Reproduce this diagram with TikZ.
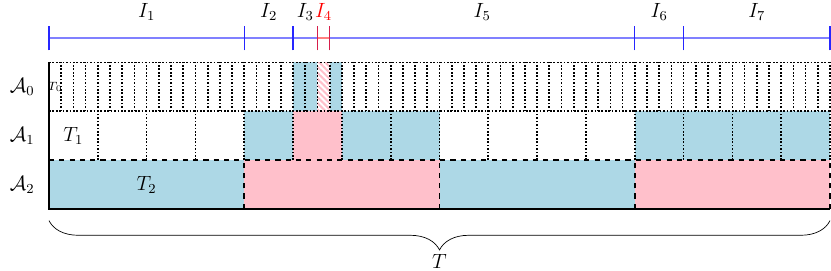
\documentclass[tikz,border=0pt]{standalone}
\usepackage{amsmath}
\usepackage{amssymb}
\usetikzlibrary{calc, decorations.pathreplacing, patterns.meta}
\definecolor{cellblue}{RGB}{173,216,230}
\definecolor{cellpink}{RGB}{255,192,203}
\definecolor{tickred}{RGB}{215,30,75}

\begin{document}
\begin{tikzpicture}[
    every node/.style={font=\large},
    finegrid/.style={densely dotted, line width=1pt},
    coarsegrid/.style={dashed, line width=1pt},
    ivline/.style={blue!50, line width=1pt},
    ivtick/.style={blue!85, thick},
    redtick/.style={tickred, thick}
]
    \useasboundingbox (-1.004,-1.27) rectangle (16.02,4.28);

    % level 2 cells
    \foreach \i/\c in {0/cellblue, 1/cellpink, 2/cellblue, 3/cellpink}
        \fill[\c] (4*\i,0) rectangle (4*\i+4,1);
    % level 1 cells
    \foreach \i in {4,6,7,12,13,14,15}
        \fill[cellblue] (\i,1) rectangle (\i+1,2);
    \fill[cellpink] (5,1) rectangle (6,2);
    % level 0 cells
    \foreach \i in {20,21,23}
        \fill[cellblue] (\i/4,2) rectangle (\i/4+0.25,3);
    \fill[pattern={Lines[angle=-45, distance=2.5pt, line width=1.2pt]},
        pattern color=cellpink] (5.5,2) rectangle (5.75,3);

    % grid lines
    \foreach \i in {1,...,64}
        \draw[finegrid] (\i/4,2) -- (\i/4,3);
    \draw[finegrid] (0,3) -- (16,3);
    \draw[finegrid] (0,2) -- (16,2);
    \foreach \i in {1,...,16}
        \draw[finegrid] (\i,1) -- (\i,2);
    \draw[coarsegrid] (0,1) -- (16,1);
    \foreach \i in {1,...,4}
        \draw[coarsegrid] (4*\i,0) -- (4*\i,1);
    \draw[line width=1pt] (0,3) -- (0,0) -- (16,0);

    % intervals
    \foreach \n/\x in {a/0, b/4, c/5, d/5.5, e/5.75, f/12, g/13, h/16}
        \coordinate (\n) at (\x,3.5);
    \draw[ivline] (a) -- (d);
    \draw[ivline] (e) -- (h);
    \draw[red!50, line width=1pt] (d) -- (e);
    \foreach \n in {a, b, c, f, g, h}
        \draw[ivtick] ($(\n)+(0,-0.25)$) -- ($(\n)+(0,0.25)$);
    \foreach \n in {d, e}
        \draw[redtick] ($(\n)+(0,-0.25)$) -- ($(\n)+(0,0.25)$);

    \node (I1) at (2,4.04) {$I_1$};
    \node (I2) at (4.5,4.04) {$I_2$};
    \node (I3) at (5.25,4.04) {$I_3$};
    \node[text=red] (I4) at (5.625,4.04) {$I_4$};
    \node (I5) at (8.875,4.04) {$I_5$};
    \node (I6) at (12.5,4.04) {$I_6$};
    \node (I7) at (14.5,4.04) {$I_7$};

    % level labels
    \node (L0) at (-0.55,2.5) {$\mathcal{A}_0$};
    \node (L1) at (-0.55,1.5) {$\mathcal{A}_1$};
    \node (L2) at (-0.55,0.5) {$\mathcal{A}_2$};

    \node[inner sep=0pt, font=\scriptsize] (T0) at (0.125,2.5) {$T_0$};
    \node (T1) at (0.5,1.5) {$T_1$};
    \node (T2) at (2,0.5) {$T_2$};

    \draw[decorate, decoration={brace, mirror, amplitude=0.6cm}]
        (0,-0.24) -- (16,-0.24);
    \node[inner sep=1pt] (T) at (8,-1.07) {$T$};
\end{tikzpicture}
\end{document}
